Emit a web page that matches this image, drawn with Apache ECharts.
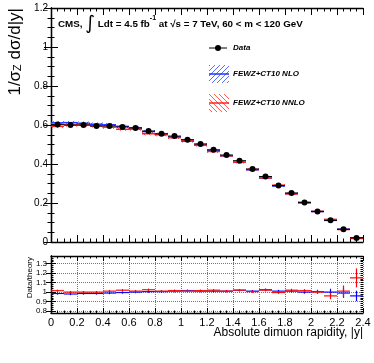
<!DOCTYPE html>
<html>
<head>
<meta charset="utf-8">
<script src="https://cdn.jsdelivr.net/npm/echarts@6/dist/echarts.min.js"></script>
<style>
html, body { margin: 0; padding: 0; background: #fff; }
#chart { width: 374px; height: 363px; }
</style>
</head>
<body>
<div id="chart"></div>
<script>
// bins in |y|
const binEdges = [0, 0.1, 0.2, 0.3, 0.4, 0.5, 0.6, 0.7, 0.8, 0.9, 1.0, 1.1, 1.2, 1.3, 1.4, 1.5, 1.6, 1.7, 1.8, 1.9, 2.0, 2.1, 2.2, 2.3, 2.4];

// 1/sigma dsigma/d|y|
const dataVal = [0.602, 0.600, 0.600, 0.595, 0.595, 0.590, 0.585, 0.569, 0.555, 0.543, 0.525, 0.503, 0.473, 0.446, 0.417, 0.374, 0.336, 0.290, 0.251, 0.203, 0.157, 0.111, 0.065, 0.021];
const dataErr = [0.004, 0.004, 0.004, 0.004, 0.004, 0.004, 0.004, 0.004, 0.004, 0.004, 0.004, 0.004, 0.004, 0.004, 0.004, 0.004, 0.003, 0.003, 0.003, 0.003, 0.003, 0.003, 0.003, 0.002];
const nloVal = [0.611, 0.612, 0.609, 0.604, 0.601, 0.593, 0.585, 0.566, 0.552, 0.538, 0.517, 0.498, 0.468, 0.442, 0.409, 0.370, 0.328, 0.287, 0.249, 0.203, 0.156, 0.111, 0.066, 0.022];
const nloErr = [0.009, 0.009, 0.009, 0.009, 0.009, 0.008, 0.008, 0.008, 0.008, 0.007, 0.007, 0.007, 0.007, 0.006, 0.006, 0.006, 0.005, 0.005, 0.004, 0.004, 0.003, 0.003, 0.002, 0.001];
const nnloVal = [0.593, 0.600, 0.600, 0.595, 0.589, 0.578, 0.579, 0.555, 0.550, 0.535, 0.520, 0.496, 0.464, 0.442, 0.409, 0.372, 0.329, 0.291, 0.246, 0.200, 0.157, 0.116, 0.064, 0.018];
const nnloErr = [0.009, 0.009, 0.009, 0.009, 0.009, 0.008, 0.008, 0.008, 0.008, 0.007, 0.007, 0.007, 0.007, 0.006, 0.006, 0.006, 0.005, 0.005, 0.004, 0.004, 0.003, 0.003, 0.002, 0.001];

// data / theory
const ratioNlo = [0.985, 0.98, 0.985, 0.985, 0.99, 0.995, 1.0, 1.005, 1.005, 1.01, 1.015, 1.01, 1.01, 1.01, 1.02, 1.01, 1.025, 1.01, 1.01, 1.0, 1.005, 1.0, 0.99, 0.96];
const ratioNloErr = [0.012, 0.012, 0.012, 0.012, 0.012, 0.012, 0.012, 0.012, 0.012, 0.012, 0.012, 0.012, 0.012, 0.012, 0.012, 0.012, 0.013, 0.014, 0.015, 0.017, 0.02, 0.035, 0.05, 0.055];
const ratioNloBand = [0.008, 0.008, 0.008, 0.008, 0.008, 0.008, 0.008, 0.008, 0.008, 0.008, 0.008, 0.008, 0.008, 0.008, 0.008, 0.008, 0.008, 0.008, 0.008, 0.008, 0.008, 0.008, 0.008, 0.008];
const ratioNnlo = [1.015, 1.0, 1.0, 1.0, 1.01, 1.02, 1.01, 1.025, 1.01, 1.015, 1.01, 1.015, 1.02, 1.01, 1.02, 1.005, 1.02, 0.995, 1.02, 1.015, 1.0, 0.96, 1.01, 1.15];
const ratioNnloErr = [0.012, 0.012, 0.012, 0.012, 0.012, 0.012, 0.012, 0.012, 0.012, 0.012, 0.012, 0.012, 0.012, 0.012, 0.012, 0.012, 0.013, 0.014, 0.015, 0.017, 0.02, 0.035, 0.06, 0.1];
const ratioNnloBand = [0.008, 0.008, 0.008, 0.008, 0.008, 0.008, 0.008, 0.008, 0.008, 0.008, 0.008, 0.008, 0.008, 0.008, 0.008, 0.008, 0.008, 0.008, 0.008, 0.008, 0.008, 0.008, 0.008, 0.008];

const mainTicks = [0, 0.2, 0.4, 0.6, 0.8, 1, 1.2];
const ratioTicks = [0.8, 0.9, 1.0, 1.1, 1.2, 1.3];

const FONT = 'Liberation Sans, Arial, Helvetica, sans-serif';

function rows(vals, errs, band) {
  return vals.map((v, i) => [binEdges[i], binEdges[i + 1], v, errs[i], band ? band[i] : 0]);
}

// diagonal hatch, ROOT style
function hatch(color, dir) {
  const n = 5;
  const c = document.createElement('canvas');
  c.width = n; c.height = n;
  const ctx = c.getContext('2d');
  ctx.strokeStyle = color;
  ctx.lineWidth = 0.9;
  ctx.beginPath();
  if (dir === '/') {
    ctx.moveTo(-1, n + 1); ctx.lineTo(n + 1, -1);
    ctx.moveTo(-1, 1); ctx.lineTo(1, -1);
    ctx.moveTo(n - 1, n + 1); ctx.lineTo(n + 1, n - 1);
  } else {
    ctx.moveTo(-1, -1); ctx.lineTo(n + 1, n + 1);
    ctx.moveTo(n - 1, -1); ctx.lineTo(n + 1, 1);
    ctx.moveTo(-1, n - 1); ctx.lineTo(1, n + 1);
  }
  ctx.stroke();
  return { image: c, repeat: 'repeat' };
}
const blueHatch = hatch('#4a5cff', '/');
const redHatch = hatch('#ff4a4a', '\\');

function boxRender(pattern, lineColor) {
  return function (params, api) {
    const x0 = api.value(0), x1 = api.value(1), c = api.value(2), e = api.value(3);
    const p0 = api.coord([x0, c + e]);
    const p1 = api.coord([x1, c - e]);
    const m0 = api.coord([x0, c]);
    const m1 = api.coord([x1, c]);
    return {
      type: 'group',
      children: [
        { type: 'rect', shape: { x: p0[0], y: p0[1], width: p1[0] - p0[0], height: Math.max(p1[1] - p0[1], 1) }, style: { fill: pattern } },
        { type: 'line', shape: { x1: m0[0], y1: m0[1], x2: m1[0], y2: m1[1] }, style: { stroke: lineColor, lineWidth: 1.5 } }
      ]
    };
  };
}

function dataRender(params, api) {
  const x0 = api.value(0), x1 = api.value(1), v = api.value(2), e = api.value(3);
  const xc = (x0 + x1) / 2;
  const a = api.coord([x0, v]), b = api.coord([x1, v]);
  const t = api.coord([xc, v + e]), u = api.coord([xc, v - e]);
  const m = api.coord([xc, v]);
  return {
    type: 'group',
    children: [
      { type: 'line', shape: { x1: a[0], y1: a[1], x2: b[0], y2: b[1] }, style: { stroke: '#000', lineWidth: 1 } },
      { type: 'line', shape: { x1: t[0], y1: t[1], x2: u[0], y2: u[1] }, style: { stroke: '#000', lineWidth: 1 } },
      { type: 'circle', shape: { cx: m[0], cy: m[1], r: 3 }, style: { fill: '#000' } }
    ]
  };
}

function ratioRender(color, bandColor) {
  return function (params, api) {
    const x0 = api.value(0), x1 = api.value(1), v = api.value(2), e = api.value(3), bd = api.value(4);
    const xc = (x0 + x1) / 2;
    const r0 = api.coord([x0, v + bd]), r1 = api.coord([x1, v - bd]);
    const a = api.coord([x0, v]), b = api.coord([x1, v]);
    const t = api.coord([xc, v + e]), u = api.coord([xc, v - e]);
    return {
      type: 'group',
      children: [
        { type: 'rect', shape: { x: r0[0], y: r0[1], width: r1[0] - r0[0], height: r1[1] - r0[1] }, style: { fill: bandColor } },
        { type: 'line', shape: { x1: a[0], y1: a[1], x2: b[0], y2: b[1] }, style: { stroke: color, lineWidth: 1 } },
        { type: 'line', shape: { x1: t[0], y1: t[1], x2: u[0], y2: u[1] }, style: { stroke: color, lineWidth: 1.2 } }
      ]
    };
  };
}

const tickLine = { color: '#000', width: 1 };

function xAx(grid, pos, labels, split) {
  return {
    gridIndex: grid, type: 'value', position: pos, min: 0, max: 2.4, interval: 0.2,
    axisLine: { show: true, onZero: false, lineStyle: { color: '#000', width: 1.3 } },
    axisTick: { show: true, inside: true, length: grid === 0 ? 7 : 5, lineStyle: tickLine },
    minorTick: { show: true, splitNumber: 4, length: grid === 0 ? 3.5 : 2.5, lineStyle: tickLine },
    axisLabel: { show: labels, fontSize: 11, color: '#000', fontFamily: FONT, margin: 4 },
    splitLine: { show: split, lineStyle: { type: 'dotted', color: '#777', width: 1 } }
  };
}

const chart = echarts.init(document.getElementById('chart'));
chart.setOption({
  animation: false,
  grid: [
    { left: 51, top: 8, width: 312, height: 234 },
    { left: 51, top: 256, width: 312, height: 57 }
  ],
  xAxis: [
    xAx(0, 'bottom', false, false),
    xAx(0, 'top', false, false),
    xAx(1, 'bottom', true, true),
    xAx(1, 'top', false, false)
  ],
  yAxis: [
    {
      gridIndex: 0, type: 'value', position: 'left', min: 0, max: 1.2, interval: 0.2,
      axisLine: { show: true, lineStyle: { color: '#000', width: 1.3 } },
      axisTick: { show: true, inside: true, length: 7, lineStyle: tickLine },
      minorTick: { show: true, splitNumber: 4, length: 3.5, lineStyle: tickLine },
      axisLabel: { fontSize: 10, color: '#000', fontFamily: FONT, margin: 3, customValues: mainTicks },
      splitLine: { show: false }
    },
    {
      gridIndex: 0, type: 'value', position: 'right', min: 0, max: 1.2, interval: 0.2,
      axisLine: { show: true, lineStyle: { color: '#000', width: 1.3 } },
      axisTick: { show: true, inside: true, length: 7, lineStyle: tickLine },
      minorTick: { show: true, splitNumber: 4, length: 3.5, lineStyle: tickLine },
      axisLabel: { show: false },
      splitLine: { show: false }
    },
    {
      gridIndex: 1, type: 'value', position: 'left', min: 0.78, max: 1.38, splitNumber: 6,
      axisLine: { show: true, lineStyle: { color: '#000', width: 1.3 } },
      axisTick: { show: true, inside: true, length: 5, lineStyle: tickLine, customValues: ratioTicks },
      axisLabel: { fontSize: 8, color: '#000', fontFamily: FONT, margin: 4, customValues: ratioTicks },
      splitLine: { show: true, lineStyle: { type: 'dotted', color: '#777', width: 1 } }
    },
    {
      gridIndex: 1, type: 'value', position: 'right', min: 0.78, max: 1.38,
      axisLine: { show: true, lineStyle: { color: '#000', width: 1.3 } },
      axisTick: { show: true, inside: true, length: 5, lineStyle: tickLine, customValues: ratioTicks },
      axisLabel: { show: false },
      splitLine: { show: false }
    },
    {
      gridIndex: 1, type: 'value', position: 'left', offset: 0, min: 0.78, max: 1.38, interval: 0.02,
      axisLine: { show: false },
      axisTick: { show: true, inside: true, length: 2.5, lineStyle: tickLine },
      axisLabel: { show: false },
      splitLine: { show: false }
    },
    {
      gridIndex: 1, type: 'value', position: 'right', offset: 0, min: 0.78, max: 1.38, interval: 0.02,
      axisLine: { show: false },
      axisTick: { show: true, inside: true, length: 2.5, lineStyle: tickLine },
      axisLabel: { show: false },
      splitLine: { show: false }
    }
  ],
  series: [
    { type: 'custom', name: 'FEWZ+CT10 NLO', xAxisIndex: 0, yAxisIndex: 0, clip: true,
      data: rows(nloVal, nloErr), renderItem: boxRender(blueHatch, '#2233ff') },
    { type: 'custom', name: 'FEWZ+CT10 NNLO', xAxisIndex: 0, yAxisIndex: 0, clip: true,
      data: rows(nnloVal, nnloErr), renderItem: boxRender(redHatch, '#ff2222') },
    { type: 'custom', name: 'Data', xAxisIndex: 0, yAxisIndex: 0, clip: true,
      data: rows(dataVal, dataErr), renderItem: dataRender },
    { type: 'custom', name: 'Data/NLO', xAxisIndex: 2, yAxisIndex: 2, clip: true,
      data: rows(ratioNlo, ratioNloErr, ratioNloBand), renderItem: ratioRender('#0000ff', 'rgba(90,110,255,0.35)') },
    { type: 'custom', name: 'Data/NNLO', xAxisIndex: 2, yAxisIndex: 2, clip: true,
      data: rows(ratioNnlo, ratioNnloErr, ratioNnloBand), renderItem: ratioRender('#ff0000', 'rgba(255,90,90,0.35)') }
  ],
  graphic: [
    {
      type: 'text', x: 58, y: 24,
      style: {
        text: '{b|CMS, }{i|∫}{b| Ldt = 4.5 fb}{s|-1}{b| at √s = 7 TeV, 60 < m < 120 GeV}',
        verticalAlign: 'middle',
        rich: {
          b: { fontSize: 9.8, fontWeight: 'bold', fontFamily: FONT, fill: '#000' },
          i: { fontSize: 19, fontFamily: 'DejaVu Sans', fill: '#000' },
          s: { fontSize: 7, fontWeight: 'bold', fontFamily: FONT, fill: '#000', verticalAlign: 'top' }
        }
      }
    },
    {
      type: 'text', x: 15, y: 8, rotation: Math.PI / 2,
      style: {
        text: '{a|1/σ}{z|Z}{a| dσ/d|y|}',
        align: 'right', verticalAlign: 'middle',
        rich: {
          a: { fontSize: 17, fontFamily: FONT, fill: '#000' },
          z: { fontSize: 11, fontFamily: FONT, fill: '#000', verticalAlign: 'bottom' }
        }
      }
    },
    {
      type: 'text', x: 30, y: 257, rotation: Math.PI / 2,
      style: { text: 'Data/theory', align: 'right', verticalAlign: 'middle', fontSize: 8, fontFamily: FONT, fill: '#000' }
    },
    {
      type: 'text', x: 363, y: 333,
      style: { text: 'Absolute dimuon rapidity, |y|', align: 'right', verticalAlign: 'middle', fontSize: 12, fontFamily: FONT, fill: '#000' }
    },
    // legend
    { type: 'line', shape: { x1: 209, y1: 48, x2: 227, y2: 48 }, style: { stroke: '#000', lineWidth: 1 } },
    { type: 'circle', shape: { cx: 218, cy: 48, r: 3 }, style: { fill: '#000' } },
    { type: 'text', x: 233, y: 48, style: { text: 'Data', verticalAlign: 'middle', fontSize: 8, fontWeight: 'bold', fontStyle: 'italic', fontFamily: FONT, fill: '#000' } },
    { type: 'rect', shape: { x: 209, y: 65, width: 20, height: 18 }, style: { fill: blueHatch } },
    { type: 'line', shape: { x1: 209, y1: 74, x2: 229, y2: 74 }, style: { stroke: '#2233ff', lineWidth: 1.5 } },
    { type: 'text', x: 233, y: 74, style: { text: 'FEWZ+CT10 NLO', verticalAlign: 'middle', fontSize: 8, fontWeight: 'bold', fontStyle: 'italic', fontFamily: FONT, fill: '#000' } },
    { type: 'rect', shape: { x: 209, y: 94, width: 20, height: 18 }, style: { fill: redHatch } },
    { type: 'line', shape: { x1: 209, y1: 103, x2: 229, y2: 103 }, style: { stroke: '#ff2222', lineWidth: 1.5 } },
    { type: 'text', x: 233, y: 103, style: { text: 'FEWZ+CT10 NNLO', verticalAlign: 'middle', fontSize: 8, fontWeight: 'bold', fontStyle: 'italic', fontFamily: FONT, fill: '#000' } }
  ]
});
</script>
</body>
</html>
